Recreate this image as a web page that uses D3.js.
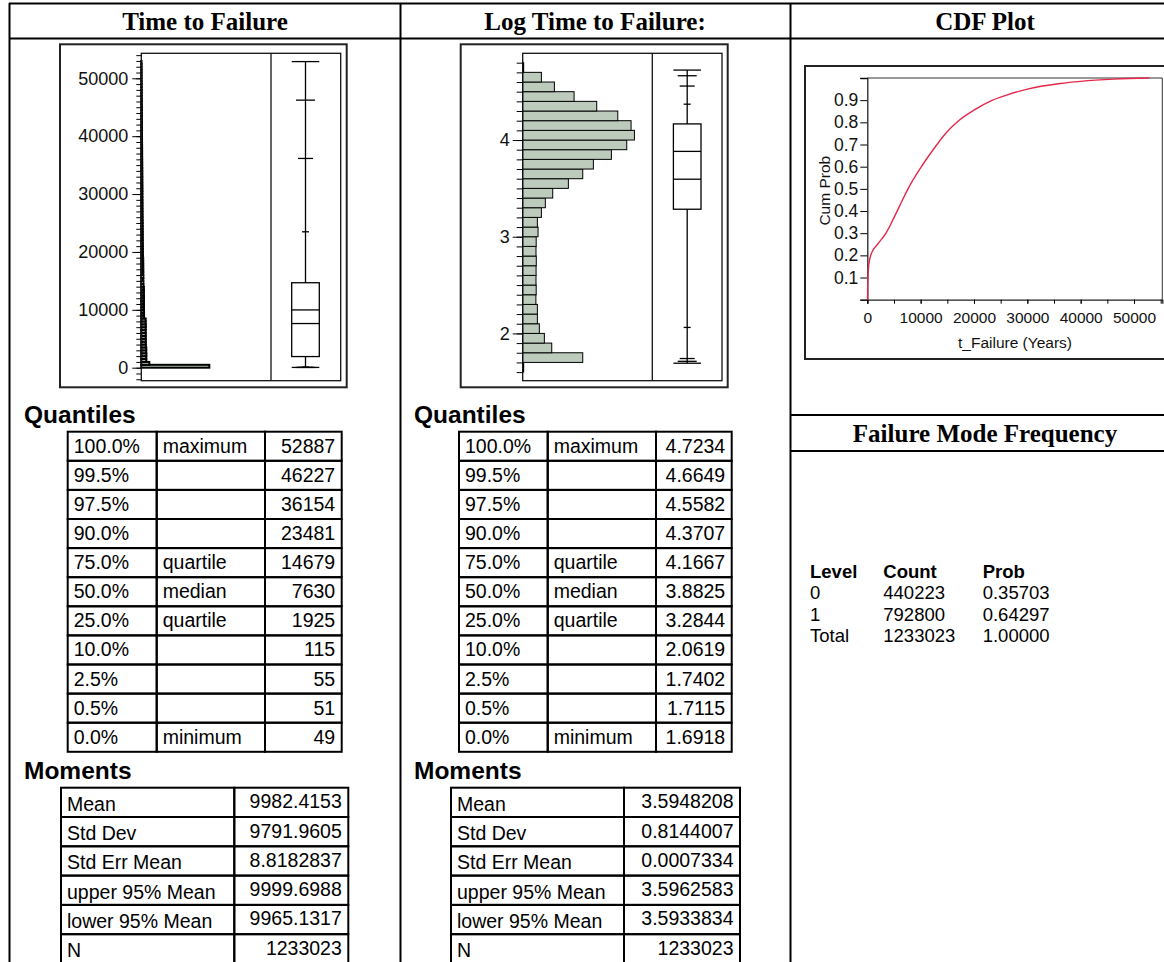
<!DOCTYPE html>
<html>
<head>
<meta charset="utf-8">
<script src="https://cdn.jsdelivr.net/npm/d3@7"></script>
<style>
  body { margin: 0; background: #fff; }
  svg { display: block; }
</style>
</head>
<body>
<svg width="1164" height="962"></svg>
<script>
/* data */

var panelTitles = ["Time to Failure", "Log Time to Failure:", "CDF Plot"];

var quantPct = ["100.0%", "99.5%", "97.5%", "90.0%", "75.0%", "50.0%", "25.0%", "10.0%", "2.5%", "0.5%", "0.0%"];
var quantName = ["maximum", "", "", "", "quartile", "median", "quartile", "", "", "", "minimum"];
var quantTime = [52887, 46227, 36154, 23481, 14679, 7630, 1925, 115, 55, 51, 49];
var quantLog = [4.7234, 4.6649, 4.5582, 4.3707, 4.1667, 3.8825, 3.2844, 2.0619, 1.7402, 1.7115, 1.6918];

var momentName = ["Mean", "Std Dev", "Std Err Mean", "upper 95% Mean", "lower 95% Mean", "N"];
var momentTime = [9982.4153, 9791.9605, 8.8182837, 9999.6988, 9965.1317, 1233023];
var momentLog = [3.5948208, 0.8144007, 0.0007334, 3.5962583, 3.5933834, 1233023];

// histogram of t_Failure, bins of 500 years starting at 0
var timeBinStart = 0, timeBinWidth = 500;
var timeCounts = [
  152000, 17900, 11200, 11000, 11300, 10900, 11100, 10200, 10000, 10100,
  9900, 10000, 9800, 9900, 10000, 9700, 9800, 6200, 6000, 6100,
  5900, 6000, 5800, 5900, 6000, 5700, 5900, 5800, 4600, 4500,
  4400, 4500, 4300, 4400, 4200, 4300, 4100, 4200, 3600, 3500,
  3500, 3400, 3400, 3300, 3300, 3200, 3200, 3100, 3100, 3000,
  3000, 2800, 2800, 2700, 2700, 2600, 2600, 2500, 2500, 2400,
  2400, 2400, 2300, 2300, 2200, 2200, 2200, 2100, 2100, 2000,
  2000, 1900, 1900, 1800, 1800, 1800, 1700, 1700, 1600, 1600,
  1500, 1500, 1500, 1400, 1400, 1300, 1300, 1300, 1200, 1200,
  1200, 1100, 1100, 1000, 1000, 900, 900, 900, 800, 800,
  700, 700, 700, 600, 600, 500
];

// histogram of log10 t_Failure, bins of 0.1 starting at 1.6
var logBinStart = 1.6, logBinWidth = 0.1;
var logCounts = [
  1000, 61000, 29500, 22000, 16900, 14900, 14900, 13400, 13700, 13500,
  13600, 13800, 13500, 13700, 15600, 14900, 19000, 23000, 30500, 46400,
  61000, 71800, 90100, 105700, 113500, 110100, 96600, 75200, 52200, 32200,
  19000, 1000
];

// empirical CDF of t_Failure
var cdfTime = [49, 55, 115, 300, 800, 1925, 3500, 5000, 6500, 7630, 10000, 12000, 14679,
  17000, 20000, 23481, 26000, 30000, 36154, 40000, 46227, 52887];
var cdfProb = [0, 0.025, 0.10, 0.16, 0.21, 0.25, 0.30, 0.37, 0.445, 0.50, 0.595, 0.665, 0.75,
  0.805, 0.855, 0.90, 0.922, 0.95, 0.975, 0.985, 0.995, 1.0];

var freqHead = ["Level", "Count", "Prob"];
var freqLevel = ["0", "1", "Total"];
var freqCount = [440223, 792800, 1233023];
var freqProb = [0.35703, 0.64297, 1.00000];


var svg = d3.select("svg");
var sans = "'Liberation Sans', Arial, sans-serif",
    serif = "'Liberation Serif', 'Times New Roman', serif";

// report grid
var gridLines = [
  [9, 3.5, 1180, 3.5], [9, 38.5, 1180, 38.5],
  [9.5, 3, 9.5, 962], [400.5, 3, 400.5, 962], [790.5, 3, 790.5, 962],
  [790, 415, 1180, 415], [790, 451, 1180, 451]
];
svg.append("g").selectAll("line").data(gridLines).join("line")
  .attr("x1", function(d) { return d[0]; }).attr("y1", function(d) { return d[1]; })
  .attr("x2", function(d) { return d[2]; }).attr("y2", function(d) { return d[3]; })
  .attr("stroke", "#000").attr("stroke-width", 2);

var titleX = [205, 595, 985];
svg.append("g").selectAll("text").data(panelTitles).join("text")
  .attr("x", function(d, i) { return titleX[i]; })
  .attr("y", 30)
  .attr("text-anchor", "middle")
  .attr("font-family", serif).attr("font-weight", "bold").attr("font-size", 25)
  .text(function(d) { return d; });

svg.append("text").attr("x", 985).attr("y", 441.5)
  .attr("text-anchor", "middle")
  .attr("font-family", serif).attr("font-weight", "bold").attr("font-size", 25)
  .text("Failure Mode Frequency");


// histogram + outlier box plot
function boxHist(cfg) {
  var g = svg.append("g");
  var L = cfg.inner[0], T = cfg.inner[1], R = cfg.inner[2], B = cfg.inner[3], D = cfg.divider;

  g.append("rect")
    .attr("x", cfg.outer[0]).attr("y", cfg.outer[1])
    .attr("width", cfg.outer[2] - cfg.outer[0]).attr("height", cfg.outer[3] - cfg.outer[1])
    .attr("fill", "none").attr("stroke", "#222").attr("stroke-width", 2);

  var y = d3.scaleLinear().domain(cfg.yDomain).range([B, T]);
  var x = d3.scaleLinear().domain([0, d3.max(cfg.counts) * cfg.xPad]).range([L, D]);

  g.append("g").selectAll("rect").data(cfg.counts).join("rect")
    .attr("x", L)
    .attr("y", function(d, i) { return y(cfg.binStart + (i + 1) * cfg.binWidth); })
    .attr("width", function(d) { return x(d) - L; })
    .attr("height", function(d, i) {
      return y(cfg.binStart + i * cfg.binWidth) - y(cfg.binStart + (i + 1) * cfg.binWidth);
    })
    .attr("fill", "#bccbbc").attr("stroke", "#000").attr("stroke-width", cfg.barStroke);

  var minorAxis = g.append("g").attr("transform", "translate(" + L + ",0)")
    .call(d3.axisLeft(y).tickValues(cfg.minor).tickSize(cfg.minorLen).tickFormat(""));
  minorAxis.select(".domain").remove();

  var majorAxis = g.append("g").attr("transform", "translate(" + L + ",0)")
    .call(d3.axisLeft(y).tickValues(cfg.major).tickSize(cfg.majorLen).tickPadding(cfg.pad)
      .tickFormat(d3.format("d")));
  majorAxis.select(".domain").remove();
  majorAxis.attr("font-size", 18).attr("font-family", sans);
  majorAxis.selectAll("text").attr("fill", "#111");

  g.append("rect").attr("x", L).attr("y", T).attr("width", R - L).attr("height", B - T)
    .attr("fill", "none").attr("stroke", "#111").attr("stroke-width", 1.3);
  g.append("line").attr("x1", D).attr("x2", D).attr("y1", T).attr("y2", B)
    .attr("stroke", "#111").attr("stroke-width", 1.3);

  // box plot
  var q = cfg.quant, cx = cfg.boxX, hw = 13.8;
  var capHalf = [hw, 9.5, 7.5, 3.5, 0, 0, 0, 3.5, 7.5, 9.5, hw];
  var caps = q.map(function(v, i) { return [v, capHalf[i]]; })
    .filter(function(d) { return d[1] > 0; });
  var bx = g.append("g").attr("stroke", "#000").attr("stroke-width", 1.3);
  bx.append("line").attr("x1", cx).attr("x2", cx).attr("y1", y(q[10])).attr("y2", y(q[0]));
  bx.selectAll(".cap").data(caps).join("line")
    .attr("x1", function(d) { return cx - d[1]; }).attr("x2", function(d) { return cx + d[1]; })
    .attr("y1", function(d) { return y(d[0]); }).attr("y2", function(d) { return y(d[0]); });
  bx.append("rect").attr("x", cx - hw).attr("width", 2 * hw)
    .attr("y", y(q[4])).attr("height", y(q[6]) - y(q[4]))
    .attr("fill", "#fff");
  [q[5], cfg.mean].forEach(function(v) {
    bx.append("line").attr("x1", cx - hw).attr("x2", cx + hw).attr("y1", y(v)).attr("y2", y(v));
  });
}

boxHist({
  outer: [60, 44.3, 346.7, 387.3],
  inner: [141.3, 53.3, 340.7, 380.7],
  divider: 271,
  yDomain: [-2246, 54320],
  counts: timeCounts, binStart: timeBinStart, binWidth: timeBinWidth,
  xPad: 1.907, barStroke: 2,
  minor: d3.range(-2000, 54001, 1000), minorLen: 5,
  major: d3.range(0, 50001, 10000), majorLen: 9, pad: 4,
  quant: quantTime, mean: momentTime[0],
  boxX: 305.5
});

boxHist({
  outer: [460.7, 44.3, 727.7, 387.3],
  inner: [522.7, 53.3, 722, 380.7],
  divider: 652.3,
  yDomain: [1.511, 4.897],
  counts: logCounts, binStart: logBinStart, binWidth: logBinWidth,
  xPad: 1.16, barStroke: 1,
  minor: d3.range(16, 49, 1).map(function(v) { return v / 10; }), minorLen: 6,
  major: [2, 3, 4], majorLen: 10, pad: 3,
  quant: quantLog, mean: momentLog[0],
  boxX: 687.2
});


// tables
function cellTable(cols, top, rowH, rows, align, base) {
  var g = svg.append("g");
  rows.forEach(function(row, i) {
    row.forEach(function(v, j) {
      g.append("rect")
        .attr("x", cols[j]).attr("y", top + i * rowH)
        .attr("width", cols[j + 1] - cols[j]).attr("height", rowH)
        .attr("fill", "none").attr("stroke", "#000").attr("stroke-width", 2);
      var right = align[j] === "end";
      g.append("text")
        .attr("x", right ? cols[j + 1] - 6.5 : cols[j] + 6)
        .attr("y", top + i * rowH + base[j])
        .attr("text-anchor", right ? "end" : "start")
        .attr("font-family", sans).attr("font-size", 19.5)
        .text(v);
    });
  });
}

function heading(x, y, s) {
  svg.append("text").attr("x", x).attr("y", y)
    .attr("font-family", sans).attr("font-weight", "bold").attr("font-size", 24.5)
    .text(s);
}

heading(24, 422.7, "Quantiles");
heading(414, 422.7, "Quantiles");
heading(24, 779.3, "Moments");
heading(414, 779.3, "Moments");

cellTable([67.7, 156.7, 265, 341.7], 431.7, 29.1,
  quantPct.map(function(p, i) { return [p, quantName[i], String(quantTime[i])]; }),
  ["start", "start", "end"], [21, 21, 21]);
cellTable([459, 547.7, 656, 731.7], 431.7, 29.1,
  quantPct.map(function(p, i) { return [p, quantName[i], String(quantLog[i])]; }),
  ["start", "start", "end"], [21, 21, 21]);

cellTable([61, 234.3, 348.3], 787.7, 29.3,
  momentName.map(function(m, i) { return [m, String(momentTime[i])]; }),
  ["start", "end"], [23, 20.5]);
cellTable([451, 624, 740], 787.7, 29.3,
  momentName.map(function(m, i) { return [m, String(momentLog[i])]; }),
  ["start", "end"], [23, 20.5]);


// failure mode frequency
var freqX = [810, 883.3, 982.7];
var fg = svg.append("g").attr("font-family", sans).attr("font-size", 18.5);
fg.selectAll(".hd").data(freqHead).join("text")
  .attr("x", function(d, i) { return freqX[i]; }).attr("y", 577.5)
  .attr("font-weight", "bold").text(function(d) { return d; });
var fmtProb = d3.format(".5f");
freqLevel.forEach(function(lv, i) {
  var yy = 599 + i * 21.6;
  [lv, String(freqCount[i]), fmtProb(freqProb[i])].forEach(function(s, j) {
    fg.append("text").attr("x", freqX[j]).attr("y", yy).text(s);
  });
});


// CDF plot
var cg = svg.append("g");
cg.append("rect").attr("x", 805).attr("y", 66).attr("width", 400).attr("height", 293)
  .attr("fill", "none").attr("stroke", "#222").attr("stroke-width", 2);

var xC = d3.scaleLinear().domain([0, 55300]).range([867.3, 1162.3]);
var yC = d3.scaleLinear().domain([0, 1]).range([299.7, 78]);

cg.append("line").attr("x1", 867.3).attr("x2", 1162.3).attr("y1", 78).attr("y2", 78)
  .attr("stroke", "#333").attr("stroke-width", 1);
cg.append("line").attr("x1", 1162.3).attr("x2", 1162.3).attr("y1", 78).attr("y2", 299.7)
  .attr("stroke", "#333").attr("stroke-width", 1);

var xMinor = cg.append("g").attr("transform", "translate(0,299.7)")
  .call(d3.axisBottom(xC).tickValues(d3.range(0, 55001, 5000)).tickSize(4).tickFormat(""));
xMinor.select(".domain").attr("stroke", "#222").attr("stroke-width", 1.3);

var xMajor = cg.append("g").attr("transform", "translate(0,299.7)")
  .call(d3.axisBottom(xC).tickValues(d3.range(0, 50001, 10000)).tickSize(4).tickPadding(8)
    .tickFormat(d3.format("d")));
xMajor.select(".domain").remove();
xMajor.attr("font-size", 15.5).attr("font-family", sans);
xMajor.selectAll("text").attr("fill", "#111");

var yMinor = cg.append("g").attr("transform", "translate(867.3,0)")
  .call(d3.axisLeft(yC).tickValues([0, 1]).tickSize(7).tickFormat(""));
yMinor.select(".domain").attr("stroke", "#222").attr("stroke-width", 1.3);

var yMajor = cg.append("g").attr("transform", "translate(867.3,0)")
  .call(d3.axisLeft(yC).tickValues(d3.range(1, 10).map(function(v) { return v / 10; }))
    .tickSize(7).tickPadding(2).tickFormat(d3.format(".1f")));
yMajor.select(".domain").remove();
yMajor.attr("font-size", 17.5).attr("font-family", sans);
yMajor.selectAll("text").attr("fill", "#111");

var cdfLine = d3.line()
  .curve(d3.curveMonotoneX)
  .x(function(d) { return xC(d[0]); })
  .y(function(d) { return yC(d[1]); });

cg.append("path")
  .datum(cdfTime.map(function(t, i) { return [t, cdfProb[i]]; }))
  .attr("d", cdfLine)
  .attr("fill", "none").attr("stroke", "#e3284b").attr("stroke-width", 1.4);

cg.append("text").attr("x", 1015).attr("y", 348).attr("text-anchor", "middle")
  .attr("font-family", sans).attr("font-size", 15.5).attr("fill", "#111")
  .text("t_Failure (Years)");
cg.append("text").attr("transform", "translate(830,190.7) rotate(-90)")
  .attr("text-anchor", "middle")
  .attr("font-family", sans).attr("font-size", 15.5).attr("fill", "#111")
  .text("Cum Prob");
</script>
</body>
</html>
